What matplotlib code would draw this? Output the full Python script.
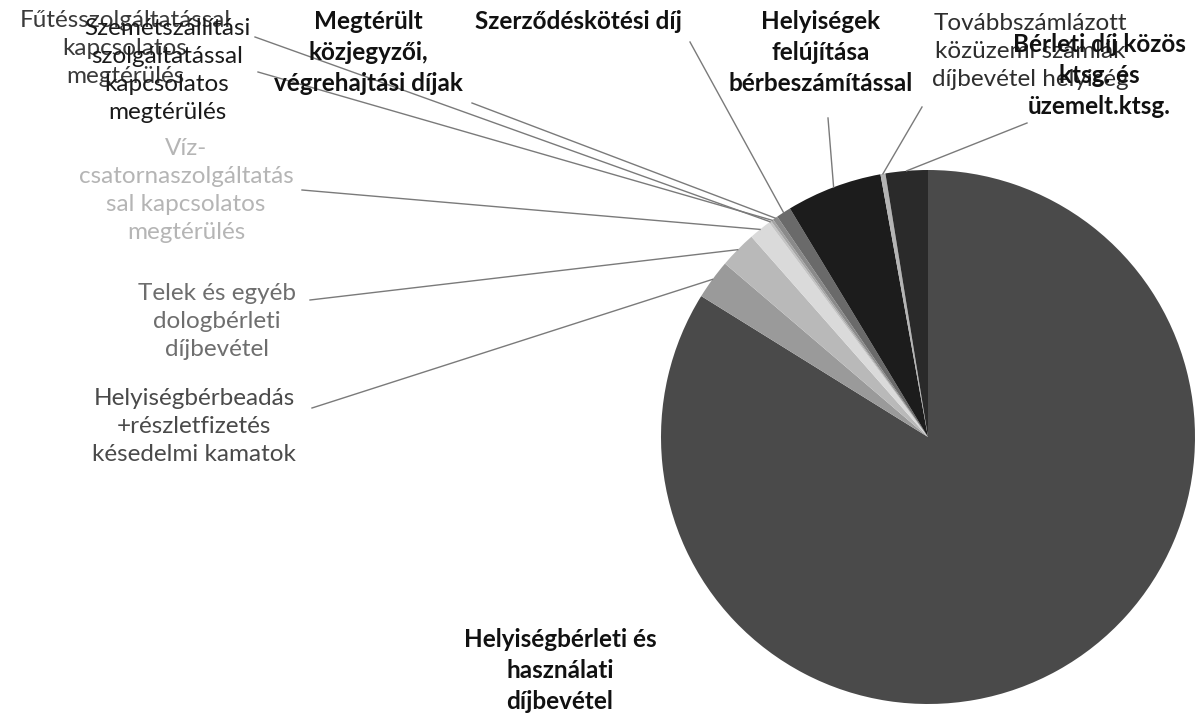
import numpy as np
import matplotlib.pyplot as plt

# slices, clockwise from 12 o'clock
labels = [
    "Helyiségbérleti és\nhasználati\ndíjbevétel",
    "Helyiségbérbeadás\n+részletfizetés\nkésedelmi kamatok",
    "Telek és egyéb\ndologbérleti\ndíjbevétel",
    "Víz-\ncsatornaszolgáltatás\nsal kapcsolatos\nmegtérülés",
    "Fűtésszolgáltatással\nkapcsolatos\nmegtérülés",
    "Szemétszállítási\nszolgáltatással\nkapcsolatos\nmegtérülés",
    "Megtérült\nközjegyzői,\nvégrehajtási díjak",
    "Szerződéskötési díj",
    "Helyiségek\nfelújítása\nbérbeszámítással",
    "Továbbszámlázott\nközüzemi számlák\ndíjbevétel helyiség",
    "Bérleti díj közös\nktsg. és\nüzemelt.ktsg.",
]
shares = [83.85, 2.4, 2.25, 1.35, 0.15, 0.15, 0.3, 0.9, 5.8, 0.3, 2.55]

colors = ["#4a4a4a", "#9a9a9a", "#b9b9b9", "#dadada", "#c4c4c4", "#a4a4a4",
          "#8a8a8a", "#6a6a6a", "#1c1c1c", "#b4b4b4", "#2a2a2a"]
bold = [True, False, False, False, False, False, True, True, True, False, True]
text_colors = ["#111111", "#4a4a4a", "#6e6e6e", "#b5b5b5", "#3a3a3a", "#1a1a1a",
               "#111111", "#111111", "#111111", "#2e2e2e", "#111111"]

# label block: (center x, top y) in pixels, leader start (x, y) or None
label_pos = [(560, 628), (194, 388), (217, 283), (186, 138), (125, 10), (167, 18),
             (368, 10), (578, 10), (821, 10), (1030, 13), (1099, 33)]
leader_start = [None, (312, 408), (310, 300), (302, 190), (255, 37), (258, 72),
                (472, 103), (690, 42), (828, 118), (922, 107), (1027, 123)]

W, H = 1195, 716
cx, cy, r = 928, 437, 267

fig = plt.figure(figsize=(W / 100, H / 100), dpi=100)
ax = fig.add_axes([0, 0, 1, 1])
wedges, _ = ax.pie(shares, colors=colors, startangle=90, counterclock=False,
                   radius=r, center=(cx, H - cy),
                   wedgeprops=dict(linewidth=0))
ax.set_xlim(0, W)
ax.set_ylim(0, H)
ax.set_aspect("equal")
ax.axis("off")

for i, w in enumerate(wedges):
    x, y = label_pos[i]
    ax.text(x, H - y, labels[i], ha="center", va="top", fontsize=17.5,
            family=["Lato", "DejaVu Sans"], linespacing=1.42,
            fontweight="bold" if bold[i] else "normal", color=text_colors[i])
    if leader_start[i] is None:
        continue
    mid = np.deg2rad((w.theta1 + w.theta2) / 2)
    ex = cx + r * np.cos(mid)
    ey = (H - cy) + r * np.sin(mid)
    sx, sy = leader_start[i]
    ax.plot([sx, ex], [H - sy, ey], color="#7a7a7a", lw=1)

fig.savefig("out.png", dpi=100)
